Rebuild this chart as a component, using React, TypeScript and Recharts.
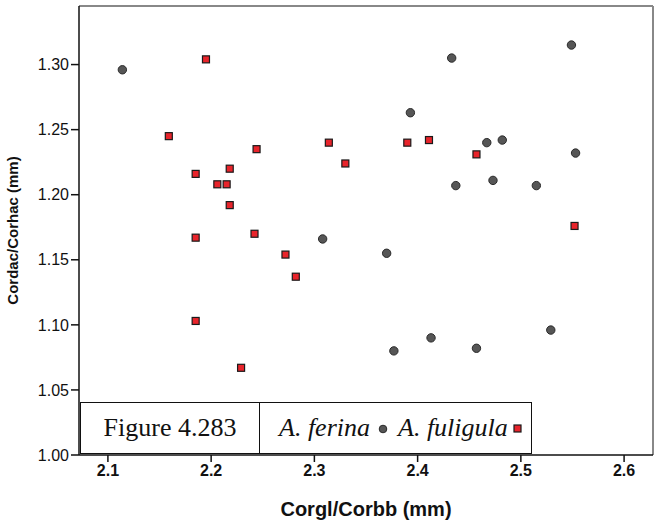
import { ScatterChart, Scatter, XAxis, YAxis, ReferenceLine, Legend } from "recharts"

// A. ferina (circles)
const ferinaX = [2.114, 2.308, 2.433, 2.549, 2.393, 2.467, 2.482, 2.553, 2.437, 2.473, 2.515, 2.37, 2.377, 2.413, 2.457, 2.529]
const ferinaY = [1.296, 1.166, 1.305, 1.315, 1.263, 1.24, 1.242, 1.232, 1.207, 1.211, 1.207, 1.155, 1.08, 1.09, 1.082, 1.096]

// A. fuligula (squares)
const fuligulaX = [2.195, 2.159, 2.244, 2.218, 2.185, 2.206, 2.215, 2.218, 2.185, 2.242, 2.272, 2.314, 2.33, 2.39, 2.411, 2.457, 2.552, 2.282, 2.185, 2.229]
const fuligulaY = [1.304, 1.245, 1.235, 1.22, 1.216, 1.208, 1.208, 1.192, 1.167, 1.17, 1.154, 1.24, 1.224, 1.24, 1.242, 1.231, 1.176, 1.137, 1.103, 1.067]

const xTicks = [2.1, 2.2, 2.3, 2.4, 2.5, 2.6]
const yTicks = [1.0, 1.05, 1.1, 1.15, 1.2, 1.25, 1.3]

const ferina = ferinaX.map((x, i) => ({ x, y: ferinaY[i] }))
const fuligula = fuligulaX.map((x, i) => ({ x, y: fuligulaY[i] }))

const X_MIN = 2.072
const X_MAX = 2.628
const Y_MIN = 1.0
const Y_MAX = 1.345

const Circle = (props: any) => (
  <circle cx={props.cx} cy={props.cy} r={4.2} fill="#565656" stroke="#2a2a2a" strokeWidth={1} />
)

const Square = (props: any) => (
  <rect x={props.cx - 3.5} y={props.cy - 3.5} width={7} height={7} fill="#e8242b" stroke="#1a1a1a" strokeWidth={1.2} />
)

// caption box drawn over the lower part of the plot
const CaptionBox = () => (
  <div
    style={{
      display: "flex",
      width: 452,
      height: 52,
      boxSizing: "border-box",
      border: "1.5px solid #111",
      background: "#fff",
      fontFamily: "'Liberation Serif', 'Times New Roman', serif",
      fontSize: 26,
      color: "#111",
      alignItems: "stretch",
    }}
  >
    <div style={{ width: 178, borderRight: "1.5px solid #111", display: "flex", alignItems: "center", justifyContent: "center" }}>
      Figure 4.283
    </div>
    <div style={{ display: "flex", alignItems: "center", paddingLeft: 19, fontStyle: "italic" }}>
      <span>A. ferina</span>
      <svg width={24} height={12} style={{ margin: "0 2px" }}>
        <circle cx={11} cy={7} r={3.8} fill="#565656" stroke="#2a2a2a" strokeWidth={1} />
      </svg>
      <span>A. fuligula</span>
      <svg width={20} height={12}>
        <rect x={6} y={3} width={7} height={7} fill="#e8242b" stroke="#1a1a1a" strokeWidth={1.2} />
      </svg>
    </div>
  </div>
)

export default function App() {
  return (
    <div style={{ position: "absolute", left: 0, top: 0, background: "#fff" }}>
      <ScatterChart width={660} height={524} margin={{ top: 6, right: 7, left: 0, bottom: 0 }}>
        <XAxis
          type="number"
          dataKey="x"
          domain={[X_MIN, X_MAX]}
          ticks={xTicks}
          allowDataOverflow
          height={69}
          tickSize={7}
          tickMargin={3}
          stroke="#111"
          strokeWidth={1.5}
          tick={{ fill: "#111", fontSize: 16, fontWeight: "bold", fontFamily: "'Liberation Sans', Arial, sans-serif" }}
          tickFormatter={(v: number) => v.toFixed(1)}
          label={{
            value: "Corgl/Corbb (mm)",
            position: "insideBottom",
            offset: 8,
            fill: "#111",
            fontSize: 20,
            fontWeight: "bold",
            fontFamily: "'Liberation Sans', Arial, sans-serif",
          }}
        />
        <YAxis
          type="number"
          dataKey="y"
          domain={[Y_MIN, Y_MAX]}
          ticks={yTicks}
          allowDataOverflow
          width={79}
          tickSize={8}
          tickMargin={2}
          stroke="#111"
          strokeWidth={1.5}
          tick={{ fill: "#111", fontSize: 16, fontFamily: "'Liberation Sans', Arial, sans-serif" }}
          tickFormatter={(v: number) => v.toFixed(2)}
          label={{
            value: "Cordac/Corhac (mm)",
            angle: -90,
            position: "insideLeft",
            offset: 13,
            style: { textAnchor: "middle" },
            fill: "#111",
            fontSize: 15,
            fontWeight: "bold",
            fontFamily: "'Liberation Sans', Arial, sans-serif",
          }}
        />
        <ReferenceLine y={Y_MAX} stroke="#888" strokeWidth={2} />
        <ReferenceLine x={X_MAX} stroke="#888" strokeWidth={2} />
        <Scatter name="A. ferina" data={ferina} shape={Circle} isAnimationActive={false} />
        <Scatter name="A. fuligula" data={fuligula} shape={Square} isAnimationActive={false} />
        <Legend
          layout="vertical"
          align="center"
          verticalAlign="middle"
          content={() => <CaptionBox />}
          wrapperStyle={{ left: 80, top: 402, width: 452, height: 52 }}
        />
      </ScatterChart>
    </div>
  )
}
